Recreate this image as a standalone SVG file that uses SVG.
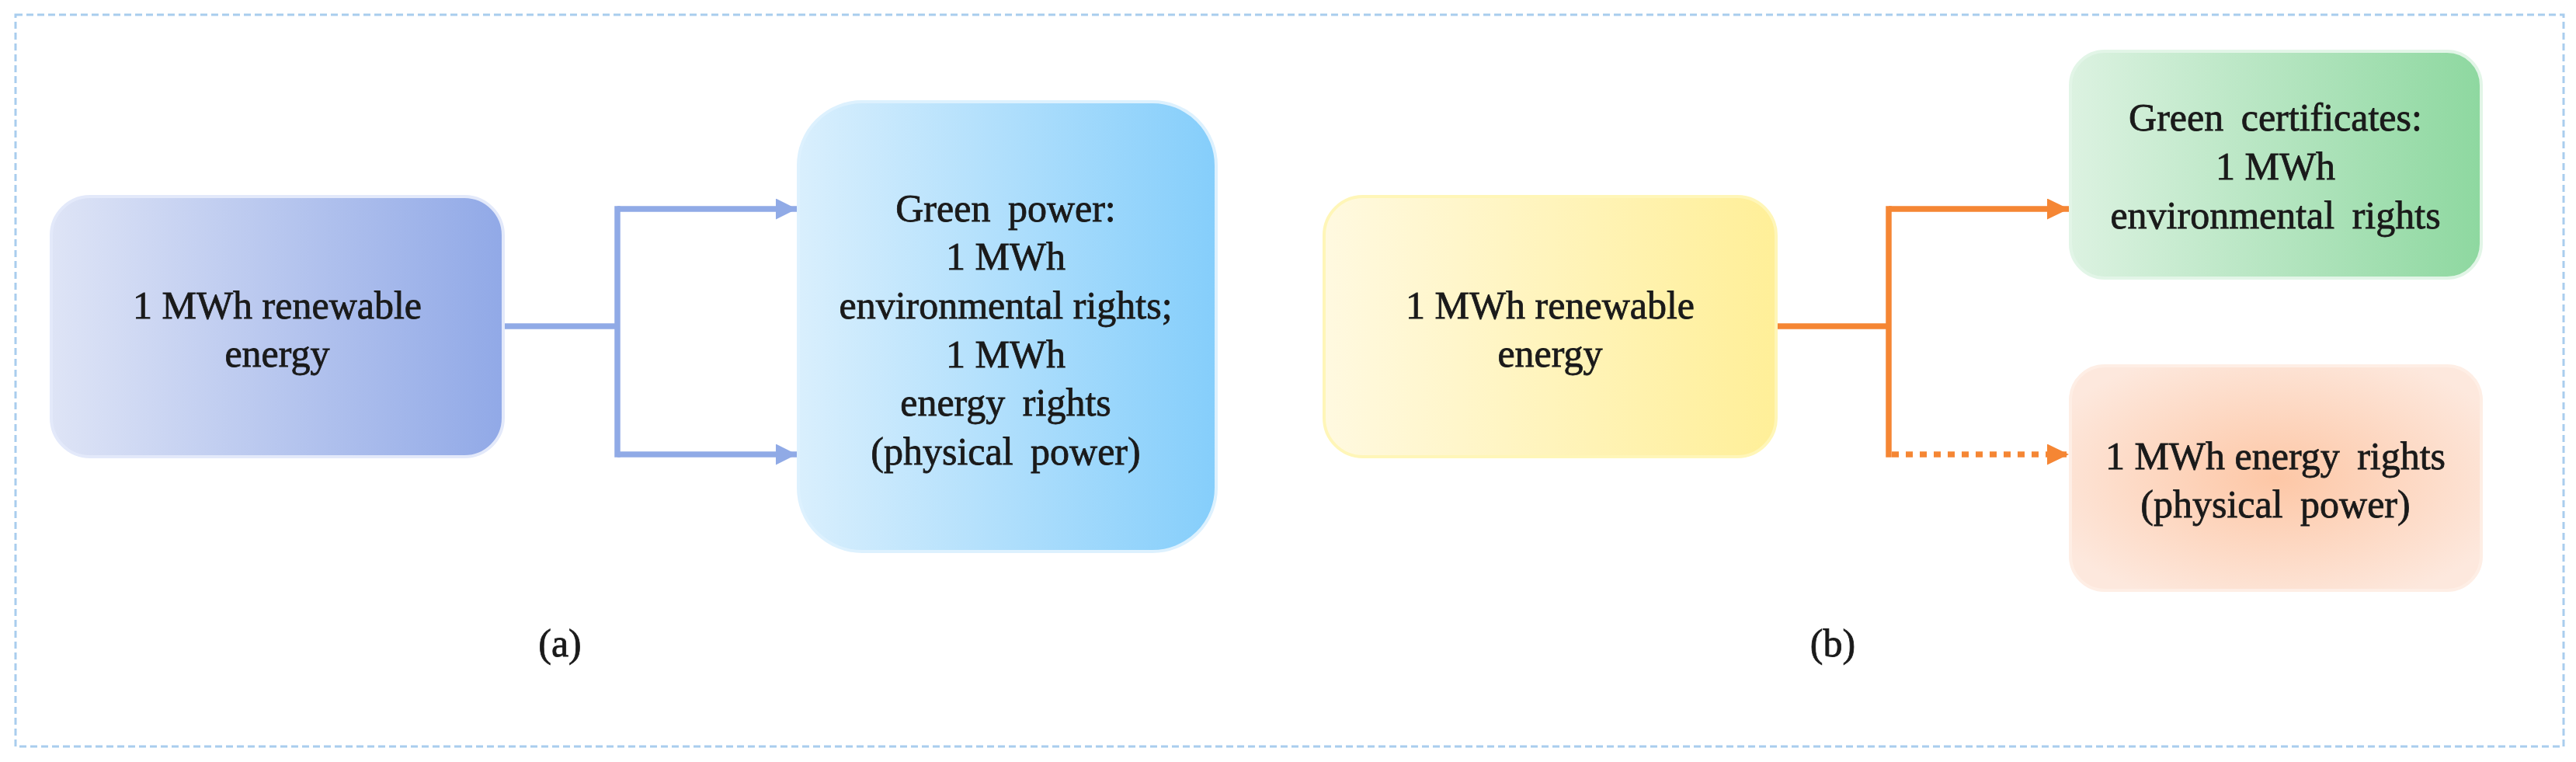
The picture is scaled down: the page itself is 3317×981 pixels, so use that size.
<svg xmlns="http://www.w3.org/2000/svg" width="3317" height="981" viewBox="0 0 3317 981">
  <defs>
    <style>
      .t { font-family: "Liberation Serif", "Times New Roman", serif; font-size: 50px; fill: #1a1a1a; stroke: #1a1a1a; stroke-width: 0.8px; text-anchor: middle; }
      .ws { word-spacing: 10px; }
      .blue { fill: none; stroke: #90AAE6; stroke-width: 7.5; }
      .orange { fill: none; stroke: #F58634; stroke-width: 7.5; }
      .dots { stroke-dasharray: 9 9; }
    </style>
    <linearGradient id="gPurple" x1="0" y1="0" x2="1" y2="0">
      <stop offset="0" stop-color="#DEE4F6"/>
      <stop offset="1" stop-color="#91A9E7"/>
    </linearGradient>
    <linearGradient id="gBlue" x1="0" y1="0" x2="1" y2="0">
      <stop offset="0" stop-color="#D9EFFD"/>
      <stop offset="1" stop-color="#85CEFB"/>
    </linearGradient>
    <linearGradient id="gYellow" x1="0" y1="0" x2="1" y2="0">
      <stop offset="0" stop-color="#FFF9E0"/>
      <stop offset="1" stop-color="#FFEF98"/>
    </linearGradient>
    <linearGradient id="gGreen" x1="0" y1="0" x2="1" y2="0">
      <stop offset="0" stop-color="#DCF2E1"/>
      <stop offset="1" stop-color="#8ED8A0"/>
    </linearGradient>
    <radialGradient id="gPeach" cx="0.5" cy="0.5" r="0.6">
      <stop offset="0" stop-color="#FDC7A6"/>
      <stop offset="1" stop-color="#FDE8DD"/>
    </radialGradient>
    <marker id="arrB" markerUnits="userSpaceOnUse" markerWidth="27" markerHeight="27" refX="27" refY="13.5" orient="auto">
      <path d="M0,0 L27,13.5 L0,27 z" fill="#90AAE6"/>
    </marker>
    <marker id="arrO" markerUnits="userSpaceOnUse" markerWidth="28" markerHeight="27" refX="28" refY="13.5" orient="auto">
      <path d="M0,0 L28,13.5 L0,27 z" fill="#F58634"/>
    </marker>
  </defs>

  <rect width="3317" height="981" fill="#FFFFFF"/>
  <rect id="frame" x="20" y="19" width="3281" height="942" fill="none" stroke="#A9CDEE" stroke-width="3" stroke-dasharray="9 5"/>

  <g id="connectors">
    <path class="blue" d="M648,420 H795"/>
    <path class="blue" d="M795,269 V585" stroke-linecap="square"/>
    <path class="blue" d="M795,269 H1026" marker-end="url(#arrB)"/>
    <path class="blue" d="M795,585 H1026" marker-end="url(#arrB)"/>

    <path class="orange" d="M2287,420 H2432"/>
    <path class="orange" d="M2432,269 V585" stroke-linecap="square"/>
    <path class="orange" d="M2432,269 H2664" marker-end="url(#arrO)"/>
    <path class="orange dots" d="M2436,585 H2664" marker-end="url(#arrO)"/>
  </g>

  <g id="a-source">
    <rect x="66" y="253" width="582" height="335" rx="50" fill="url(#gPurple)" stroke="#E3E9FA" stroke-width="4"/>
    <text class="t" x="357" y="410">1 MWh renewable</text>
    <text class="t" x="357" y="472">energy</text>
  </g>

  <g id="a-green-power">
    <rect x="1028" y="131" width="538" height="579" rx="82" fill="url(#gBlue)" stroke="#DDF1FE" stroke-width="4"/>
    <text class="t ws" x="1295" y="285">Green power:</text>
    <text class="t" x="1295" y="347">1 MWh</text>
    <text class="t" x="1295" y="410">environmental rights;</text>
    <text class="t" x="1295" y="473">1 MWh</text>
    <text class="t ws" x="1295" y="535">energy rights</text>
    <text class="t ws" x="1295" y="598">(physical power)</text>
  </g>

  <text id="label-a" class="t" x="721" y="845">(a)</text>

  <g id="b-source">
    <rect x="1705" y="253" width="582" height="335" rx="50" fill="url(#gYellow)" stroke="#FFF6B8" stroke-width="4"/>
    <text class="t" x="1996" y="410">1 MWh renewable</text>
    <text class="t" x="1996" y="472">energy</text>
  </g>

  <g id="b-certificates">
    <rect x="2666" y="66" width="529" height="292" rx="44" fill="url(#gGreen)" stroke="#E2F5E7" stroke-width="4"/>
    <text class="t ws" x="2930" y="168">Green certificates:</text>
    <text class="t" x="2930" y="231">1 MWh</text>
    <text class="t ws" x="2930" y="294">environmental rights</text>
  </g>

  <g id="b-energy-rights">
    <rect x="2666" y="471" width="529" height="289" rx="44" fill="url(#gPeach)" stroke="#FEEEE5" stroke-width="4"/>
    <text class="t" x="2930" y="604"><tspan>1 MWh energy</tspan><tspan dx="10"> rights</tspan></text>
    <text class="t ws" x="2930" y="666">(physical power)</text>
  </g>

  <text id="label-b" class="t" x="2360" y="845">(b)</text>
</svg>
